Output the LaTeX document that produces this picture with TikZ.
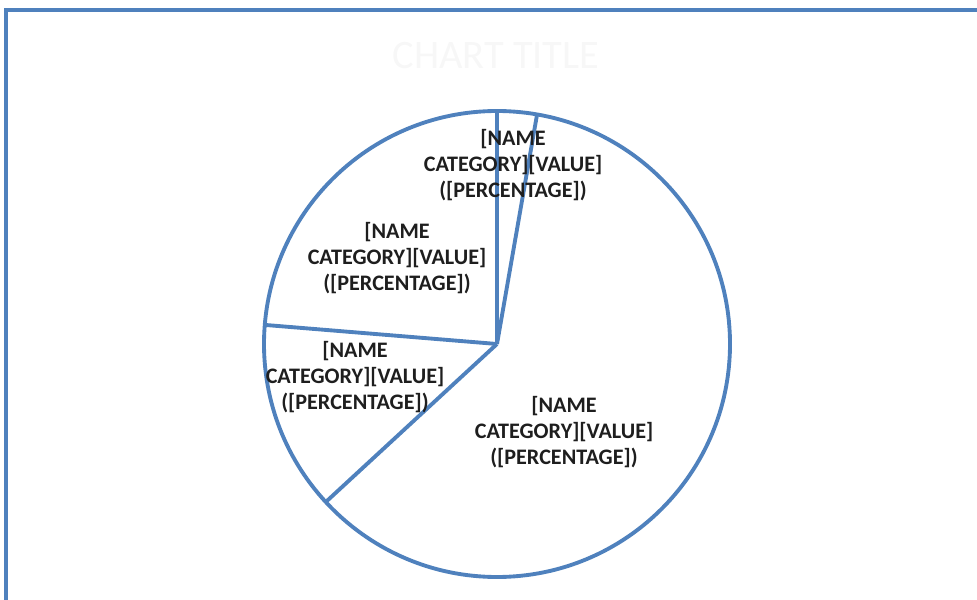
\documentclass[tikz,border=0pt]{standalone}
\usepackage{fontspec}
\setmainfont{Carlito}
\usepackage{tikz}
\usetikzlibrary{positioning}
\definecolor{chartblue}{RGB}{79,129,189}
\definecolor{labelgray}{RGB}{30,30,30}
\tikzstyle{slice} = [line width=2.2pt, color=chartblue]
\tikzstyle{datalabel} = [align=center, inner sep=0pt, font=\bfseries\fontsize{12.6}{14.8}\selectfont, text=labelgray]

\begin{document}
\begin{tikzpicture}[x=0.02cm, y=0.02cm]
\useasboundingbox (0,0) rectangle (977,599);
\clip (0,0) rectangle (977,599);
% Chart area
\draw[slice] (6,589) rectangle (1000,-30);
\node (title) [font=\fontsize{23}{28}\selectfont, text=white!97!black] at (496,543) {CHART TITLE};

% Pie
\coordinate (ctr) at (497,255);
\draw[slice] (ctr) circle (233);
\foreach \a in {90,80.1,175.3,222.7}
  \draw[slice] (ctr) -- ++(\a:233);

% Data labels
\node (lblsmall) [datalabel] at (513,434) {[NAME\\CATEGORY][VALUE]\\([PERCENTAGE])};
\node (lblupper) [datalabel] at (397,341) {[NAME\\CATEGORY][VALUE]\\([PERCENTAGE])};
\node (lblleft) [datalabel] at (355,222) {[NAME\\CATEGORY][VALUE]\\([PERCENTAGE])};
\node (lblbig) [datalabel] at (564,167) {[NAME\\CATEGORY][VALUE]\\([PERCENTAGE])};
\end{tikzpicture}
\end{document}
